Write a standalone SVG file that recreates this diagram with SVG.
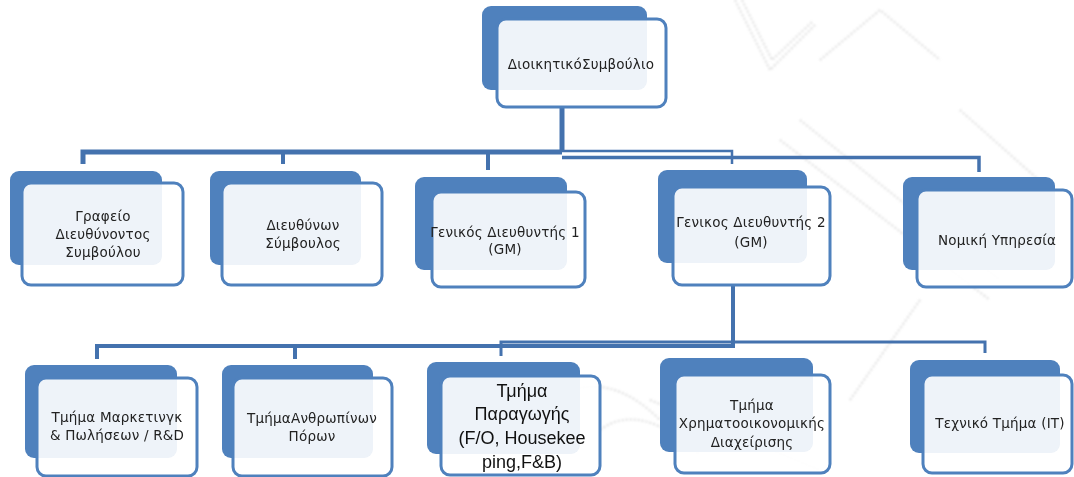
<svg xmlns="http://www.w3.org/2000/svg" width="1074" height="477" viewBox="0 0 1074 477">
  <defs>
    <style>
      .back { fill: #4F81BD; }
      .front { fill: #FFFFFF; fill-opacity: 0.9; stroke: #4F81BD; stroke-width: 3; }
      .wire { fill: none; stroke: #4472AE; stroke-linejoin: miter; }
      .lbl { font-family: "DejaVu Sans", "Noto Sans", sans-serif; font-size: 13.5px; letter-spacing: 0.2px; fill: #222222; text-anchor: middle; }
      .big { font-family: "Liberation Sans", Arial, sans-serif; font-size: 18px; fill: #111; text-anchor: middle; }
      .wm { fill: none; stroke: #BDBDBD; stroke-width: 2; stroke-dasharray: 2 2; opacity: 0.55; }
    </style>
    <filter id="soft" x="-5%" y="-5%" width="110%" height="110%">
      <feGaussianBlur stdDeviation="0.8"/>
    </filter>
  </defs>
  <rect width="1074" height="477" fill="#FFFFFF"/>

  <!-- faint background watermark strokes -->
  <g id="watermark" filter="url(#soft)">
    <path class="wm" d="M735 0 L770 70 L815 25"/>
    <path class="wm" d="M742 0 L772 60 L812 22"/>
    <path class="wm" d="M820 60 L880 10 L940 60"/>
    <path class="wm" d="M800 120 L1000 280"/>
    <path class="wm" d="M780 140 L990 300"/>
    <path class="wm" d="M960 110 L1050 190"/>
    <path class="wm" d="M920 300 L850 400"/>
    <path class="wm" d="M650 400 L820 470"/>
    <path class="wm" d="M560 395 Q610 370 660 420"/>
    <path class="wm" d="M600 430 Q640 400 700 455"/>
  </g>

  <!-- connectors -->
  <g id="connectors">
    <path class="wire" stroke-width="5" d="M562 107 V152"/>
    <path class="wire" stroke-width="5" d="M83 164 V152 H562"/>
    <path class="wire" stroke-width="4" d="M283 152 V164"/>
    <path class="wire" stroke-width="4" d="M488 152 V170"/>
    <path class="wire" stroke-width="2.5" d="M562 151 H732 V164"/>
    <path class="wire" stroke-width="3.5" d="M562 157.5 H979 V172"/>

    <path class="wire" stroke-width="4" d="M733 285 V348"/>
    <path class="wire" stroke-width="4" d="M97 359 V346 H733"/>
    <path class="wire" stroke-width="4" d="M295 346 V359"/>
    <path class="wire" stroke-width="3" d="M501 356 V342 H985 V353"/>
  </g>

  <!-- board -->
  <g id="node-board">
    <rect class="back" x="482" y="6" width="165" height="84" rx="9"/>
    <rect class="front" x="497" y="19" width="169" height="88" rx="9"/>
    <text class="lbl" x="581" y="69">ΔιοικητικόΣυμβούλιο</text>
  </g>

  <!-- first level -->
  <g id="node-ceo-office">
    <rect class="back" x="10" y="171" width="152" height="94" rx="9"/>
    <rect class="front" x="22" y="183" width="161" height="102" rx="9"/>
    <text class="lbl" x="103" y="221">Γραφείο</text>
    <text class="lbl" x="103" y="239">Διευθύνοντος</text>
    <text class="lbl" x="103" y="257">Συμβούλου</text>
  </g>
  <g id="node-ceo">
    <rect class="back" x="210" y="171" width="151" height="94" rx="9"/>
    <rect class="front" x="222" y="183" width="160" height="102" rx="9"/>
    <text class="lbl" x="303" y="230">Διευθύνων</text>
    <text class="lbl" x="303" y="248">Σύμβουλος</text>
  </g>
  <g id="node-gm1">
    <rect class="back" x="415" y="177" width="152" height="93" rx="9"/>
    <rect class="front" x="432" y="192" width="153" height="95" rx="9"/>
    <text class="lbl" x="505" y="237">Γενικός Διευθυντής 1</text>
    <text class="lbl" x="505" y="254">(GM)</text>
  </g>
  <g id="node-gm2">
    <rect class="back" x="658" y="170" width="149" height="93" rx="9"/>
    <rect class="front" x="673" y="187" width="157" height="98" rx="9"/>
    <text class="lbl" x="751" y="227">Γενικος Διευθυντής 2</text>
    <text class="lbl" x="751" y="247">(GM)</text>
  </g>
  <g id="node-legal">
    <rect class="back" x="903" y="177" width="152" height="93" rx="9"/>
    <rect class="front" x="917" y="190" width="155" height="97" rx="9"/>
    <text class="lbl" x="997" y="245">Νομική Υπηρεσία</text>
  </g>

  <!-- second level -->
  <g id="node-marketing">
    <rect class="back" x="25" y="365" width="152" height="93" rx="9"/>
    <rect class="front" x="37" y="378" width="160" height="98" rx="9"/>
    <text class="lbl" x="117" y="422">Τμήμα Μαρκετινγκ</text>
    <text class="lbl" x="117" y="440">&amp; Πωλήσεων / R&amp;D</text>
  </g>
  <g id="node-hr">
    <rect class="back" x="222" y="365" width="151" height="93" rx="9"/>
    <rect class="front" x="233" y="378" width="159" height="98" rx="9"/>
    <text class="lbl" x="312" y="423">ΤμήμαΑνθρωπίνων</text>
    <text class="lbl" x="312" y="441">Πόρων</text>
  </g>
  <g id="node-production">
    <rect class="back" x="427" y="362" width="153" height="92" rx="9"/>
    <rect class="front" x="441" y="376" width="159" height="99" rx="9"/>
    <text class="big" x="522" y="397">Τμήμα</text>
    <text class="big" x="522" y="420">Παραγωγής</text>
    <text class="big" x="522" y="444">(F/O, Housekee</text>
    <text class="big" x="522" y="468">ping,F&amp;B)</text>
  </g>
  <g id="node-finance">
    <rect class="back" x="660" y="358" width="153" height="94" rx="9"/>
    <rect class="front" x="675" y="375" width="155" height="98" rx="9"/>
    <text class="lbl" x="752" y="410">Τμήμα</text>
    <text class="lbl" x="752" y="428">Χρηματοοικονομικής</text>
    <text class="lbl" x="752" y="447">Διαχείρισης</text>
  </g>
  <g id="node-it">
    <rect class="back" x="910" y="360" width="150" height="93" rx="9"/>
    <rect class="front" x="923" y="375" width="149" height="98" rx="9"/>
    <text class="lbl" x="1000" y="428">Τεχνικό Τμήμα (IT)</text>
  </g>
</svg>
